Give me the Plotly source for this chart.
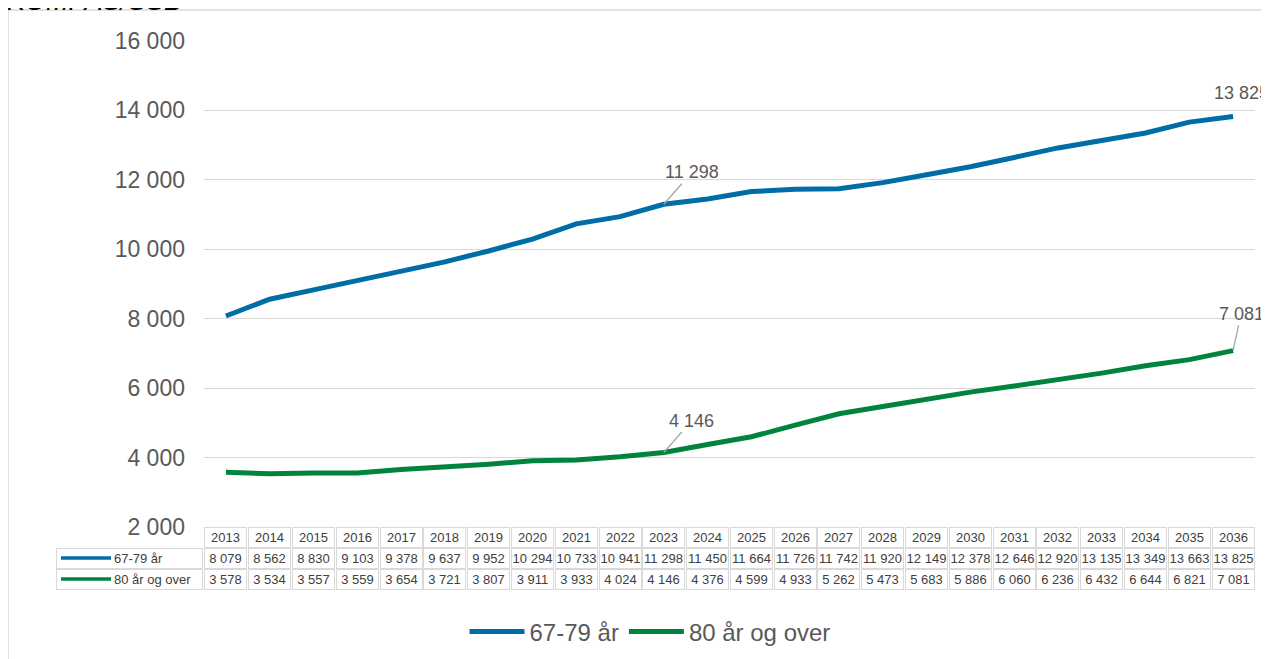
import plotly.graph_objects as go

years = [str(y) for y in range(2013, 2037)]
age_67_79 = [8079, 8562, 8830, 9103, 9378, 9637, 9952, 10294, 10733, 10941, 11298, 11450,
             11664, 11726, 11742, 11920, 12149, 12378, 12646, 12920, 13135, 13349, 13663, 13825]
age_80_over = [3578, 3534, 3557, 3559, 3654, 3721, 3807, 3911, 3933, 4024, 4146, 4376,
               4599, 4933, 5262, 5473, 5683, 5886, 6060, 6236, 6432, 6644, 6821, 7081]
series_names = ["67-79 år", "80 år og over"]
label_years = ["2023", "2036"]

BLUE = "#006DA6"
GREEN = "#00843D"
GRID = "#D9D9D9"
TXT = "#595959"
FONT = "Liberation Sans, Arial, sans-serif"

# the page puts the figure 8px in from the top-left corner
OFF = 8
W, H = 1269 - OFF, 659 - OFF
ML, MR, MT, MB = 196, 14, 33, 132
PW, PH = W - ML - MR, H - MT - MB


def px_x(p):
    # page pixel -> paper x
    return (p - OFF - ML) / PW


def px_y(p):
    # page pixel -> paper y
    return (MT + PH - (p - OFF)) / PH


def fmt(v):
    return f"{v:,}".replace(",", " ")


fig = go.Figure()
for name, vals, col in [(series_names[0], age_67_79, BLUE), (series_names[1], age_80_over, GREEN)]:
    fig.add_trace(go.Scatter(x=years, y=vals, name=name, mode="lines",
                             line=dict(color=col, width=5)))

annotations = []
shapes = []

# data labels with leader lines
lbl_font = dict(size=18, color=TXT, family=FONT)
for vals in (age_67_79, age_80_over):
    for yr in label_years:
        i = years.index(yr)
        v = vals[i]
        if yr == "2023":
            annotations.append(dict(x=i, y=v, xref="x", yref="y", text=fmt(v), showarrow=True,
                                    arrowhead=0, arrowwidth=1.3, arrowcolor="#A6A6A6",
                                    ax=28, ay=-32, font=lbl_font))
        elif v > 10000:
            annotations.append(dict(x=i, y=v, xref="x", yref="y", text=fmt(v), showarrow=False,
                                    xshift=8, yshift=24, font=lbl_font))
        else:
            annotations.append(dict(x=i, y=v, xref="x", yref="y", text=fmt(v), showarrow=True,
                                    arrowhead=0, arrowwidth=1.3, arrowcolor="#A6A6A6",
                                    ax=8, ay=-37, font=lbl_font))

# data table under the plot
row_h = 21
rows_py = [527 + row_h * (r + 0.5) for r in range(3)]
cell_font = dict(size=13, color="#404040", family=FONT)
for i, yr in enumerate(years):
    cells = [yr, fmt(age_67_79[i]), fmt(age_80_over[i])]
    for r, txt in enumerate(cells):
        annotations.append(dict(x=i, y=px_y(rows_py[r]), xref="x", yref="paper", text=txt,
                                showarrow=False, width=41, height=row_h - 2, borderwidth=1,
                                borderpad=0, bordercolor=GRID, font=cell_font,
                                xanchor="center", yanchor="middle"))

for r, (name, col) in enumerate([(series_names[0], BLUE), (series_names[1], GREEN)]):
    py = rows_py[r + 1]
    annotations.append(dict(x=px_x(203), y=px_y(py), xref="paper", yref="paper", text="",
                            showarrow=False, width=145, height=row_h - 2, borderwidth=1,
                            borderpad=0, bordercolor=GRID, xanchor="right", yanchor="middle"))
    annotations.append(dict(x=px_x(112), y=px_y(py), xref="paper", yref="paper",
                            text=name, showarrow=False, font=cell_font,
                            xanchor="left", yanchor="middle"))
    shapes.append(dict(type="line", xref="paper", yref="paper", x0=px_x(61), x1=px_x(111),
                       y0=px_y(py - 0.5), y1=px_y(py - 0.5), line=dict(color=col, width=3.5)))

# outer chart-area frame
shapes.append(dict(type="rect", xref="paper", yref="paper", x0=px_x(8), x1=px_x(1300),
                   y0=px_y(10), y1=px_y(700), line=dict(color=GRID, width=1.5)))

# cut-off source title
annotations.append(dict(x=px_x(5), y=px_y(1), xref="paper", yref="paper",
                        text="<i>KOMPAS/SSB</i>", showarrow=False, xanchor="left",
                        yanchor="middle", font=dict(size=27, color="#000000", family=FONT)))

fig.update_layout(
    width=W, height=H,
    margin=dict(l=ML, r=MR, t=MT, b=MB, autoexpand=False),
    paper_bgcolor="white", plot_bgcolor="white",
    separators=", ",
    font=dict(family=FONT, color=TXT),
    showlegend=True,
    legend=dict(orientation="h", xref="container", yref="container",
                x=(650 - OFF) / W, xanchor="center", y=1 - (632 - OFF) / H, yanchor="middle",
                font=dict(size=24, color=TXT), itemwidth=55, traceorder="normal"),
    annotations=annotations,
    shapes=shapes,
)
fig.update_xaxes(type="category", range=[-0.5, 23.5], showticklabels=False, showgrid=False,
                 zeroline=False, showline=False)
fig.update_yaxes(range=[2000, 16000], dtick=2000, tickformat=",", showgrid=True, gridcolor=GRID,
                 gridwidth=1.3, zeroline=False, showline=False, ticklabelstandoff=18,
                 tickfont=dict(size=23, color=TXT))

fig.write_html("out.html")
